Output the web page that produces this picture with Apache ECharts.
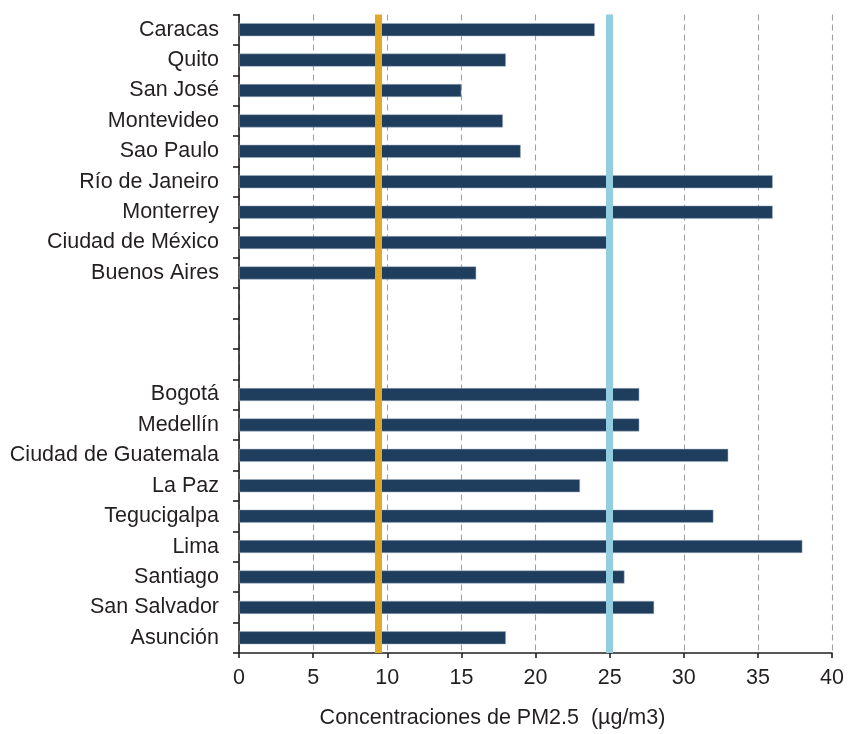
<!DOCTYPE html>
<html>
<head>
<meta charset="utf-8">
<script src="https://cdn.jsdelivr.net/npm/echarts@6/dist/echarts.min.js"></script>
<style>
  html, body { margin: 0; padding: 0; background: #ffffff; }
  #chart { width: 849px; height: 734px; }
</style>
</head>
<body>
<div id="chart"></div>
<script>
// Cities, top to bottom; the three blank entries leave a gap between the two groups
const cities = [
  'Caracas', 'Quito', 'San José', 'Montevideo', 'Sao Paulo', 'Río de Janeiro',
  'Monterrey', 'Ciudad de México', 'Buenos Aires',
  ' ', '  ', '   ',
  'Bogotá', 'Medellín', 'Ciudad de Guatemala', 'La Paz', 'Tegucigalpa',
  'Lima', 'Santiago', 'San Salvador', 'Asunción'
];

// Annual PM2.5 concentration per city (µg/m3)
const pm25 = [
  24, 18, 15, 17.8, 19, 36,
  36, 25, 16,
  null, null, null,
  27, 27, 33, 23, 32,
  38, 26, 28, 18
];

// Reference levels drawn as vertical lines
const referenceLines = [
  { value: 9.4, color: '#e2a828' },
  { value: 25, color: '#93cde0' }
];

const xTicks = { min: 0, max: 40, interval: 5 };
const axisTitle = 'Concentraciones de PM2.5  (µg/m3)';

const font = 'Liberation Sans, Arial, Helvetica, sans-serif';
const textColor = '#231f20';
const fontSize = 21.5;

const chart = echarts.init(document.getElementById('chart'), null, { renderer: 'canvas' });

chart.setOption({
  backgroundColor: '#ffffff',
  animation: false,
  grid: { left: 239, right: 17, top: 14.5, bottom: 77, containLabel: false },
  xAxis: {
    type: 'value',
    min: xTicks.min,
    max: xTicks.max,
    interval: xTicks.interval,
    name: axisTitle,
    nameLocation: 'middle',
    nameGap: 54,
    nameTextStyle: {
      fontFamily: font, fontSize: fontSize, color: textColor,
      padding: [0, 86, 0, 0]
    },
    axisLine: { show: true, lineStyle: { color: '#231f20', width: 1.6 } },
    axisTick: { show: true, length: 5, lineStyle: { color: '#231f20', width: 1.6 } },
    axisLabel: { fontFamily: font, fontSize: fontSize, color: textColor, margin: 14 },
    splitLine: { show: true, lineStyle: { color: '#a0a0a0', width: 1.1, type: [6, 4] } }
  },
  yAxis: {
    type: 'category',
    data: cities,
    inverse: true,
    axisLine: { show: true, lineStyle: { color: '#231f20', width: 1.6 } },
    axisTick: { show: true, length: 6, lineStyle: { color: '#231f20', width: 1.6 } },
    axisLabel: { fontFamily: font, fontSize: fontSize, color: textColor, margin: 20 },
    splitLine: { show: false }
  },
  series: [
    {
      type: 'bar',
      data: pm25,
      barWidth: 13,
      itemStyle: { color: '#1f3e5e', borderColor: '#a3b3c4', borderWidth: 0.5 },
      z: 2,
      markLine: {
        silent: true,
        symbol: 'none',
        label: { show: false },
        z: 5,
        data: referenceLines.map(r => ({
          xAxis: r.value,
          lineStyle: { color: r.color, width: 7, type: 'solid' }
        }))
      }
    }
  ]
});
</script>
</body>
</html>
